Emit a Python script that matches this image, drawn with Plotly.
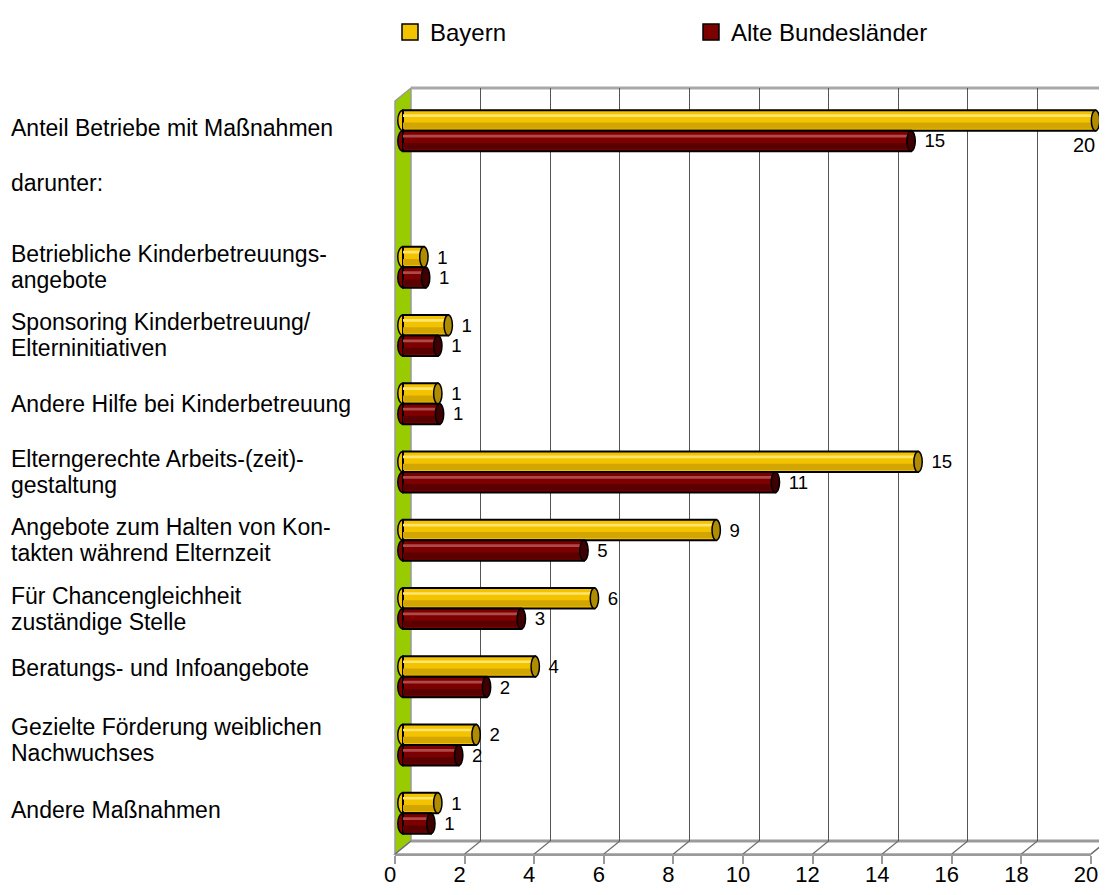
import plotly.graph_objects as go

# ---------------- data ----------------
categories = [
    "Anteil Betriebe mit Maßnahmen",
    "darunter:",
    "Betriebliche Kinderbetreuungs-<br>angebote",
    "Sponsoring Kinderbetreuung/<br>Elterninitiativen",
    "Andere Hilfe bei Kinderbetreuung",
    "Elterngerechte Arbeits-(zeit)-<br>gestaltung",
    "Angebote zum Halten von Kon-<br>takten während Elternzeit",
    "Für Chancengleichheit<br>zuständige Stelle",
    "Beratungs- und Infoangebote",
    "Gezielte Förderung weiblichen<br>Nachwuchses",
    "Andere Maßnahmen",
]
bayern = [19.9, None, 0.6, 1.3, 1.0, 14.8, 9.0, 5.5, 3.8, 2.1, 1.0]
alte = [14.6, None, 0.65, 1.0, 1.05, 10.7, 5.2, 3.4, 2.4, 1.6, 0.8]
bayern_labels = ["20", "", "1", "1", "1", "15", "9", "6", "4", "2", "1"]
alte_labels = ["15", "", "1", "1", "1", "11", "5", "3", "2", "2", "1"]
series_names = ["Bayern", "Alte Bundesländer"]
x_tick_values = [0, 2, 4, 6, 8, 10, 12, 14, 16, 18, 20]
x_tick_labels = ["0", "2", "4", "6", "8", "10", "12", "14", "16", "18", "20"]

# ---------------- geometry / style ----------------
PAGE_W, PAGE_H = 1107, 895
BODY = 8                                  # default page margin around the figure
W, H = PAGE_W - 2 * BODY, PAGE_H - 2 * BODY
RIGHT_EDGE = PAGE_W - BODY                # last visible page x of the figure
FONT = "Liberation Sans, Arial, Helvetica, sans-serif"
GRAY = "#9a9a9a"

XMAX = 20
FRONT = (395.0, 1091.0)     # page x of 0 and 20 on the front (floor edge)
BACK = (411.0, 1107.0)      # page x of 0 and 20 on the back wall
FRONT_FLOOR_Y, BACK_FLOOR_Y = 854.0, 841.0
BACK_TOP_Y, FRONT_TOP_Y = 88.0, 101.0
MID0 = 403.0
UNIT = (FRONT[1] - FRONT[0]) / XMAX
BAR_LEFT = -0.3
CAT_TOP, CAT_BOTTOM = 96.6, 847.4
LABEL_LINE = 26


def px(x):
    """page pixel x -> paper fraction"""
    return (x - BODY) / W


def py(y):
    """page pixel y -> paper fraction"""
    return 1 - (y - BODY) / H


def front_px(v):
    return FRONT[0] + (FRONT[1] - FRONT[0]) * v / XMAX


def back_px(v):
    return BACK[0] + (BACK[1] - BACK[0]) * v / XMAX


ypos = list(range(len(categories)))
BAR_W = 0.30
styles = [
    dict(offset=-BAR_W, base="#F4C300", light="#FFE46E", dark="#D2A500", cap="#B08C00"),
    dict(offset=0.0, base="#7C0000", light="#AE4A4A", dark="#5A0000", cap="#3E0000"),
]
series_values = [bayern, alte]
series_labels = [bayern_labels, alte_labels]

fig = go.Figure()

fig.add_trace(go.Scatter(x=[None], y=[None], xaxis="x", yaxis="y",
                         showlegend=False, hoverinfo="skip"))
fig.add_trace(go.Scatter(x=[None], y=[None], xaxis="x3", yaxis="y3",
                         showlegend=False, hoverinfo="skip"))

shapes = []
annotations = []

for name, vals, labs, st in zip(series_names, series_values, series_labels, styles):
    texts = [l if (v is not None and v < 19) else "" for v, l in zip(vals, labs)]
    fig.add_trace(go.Bar(
        orientation="h", x=vals, y=ypos, xaxis="x2", yaxis="y2",
        width=BAR_W, offset=st["offset"],
        marker=dict(color=st["base"], line=dict(color="black", width=2)),
        text=texts, texttemplate="\u00a0\u00a0%{text}", textposition="outside",
        textfont=dict(size=20, color="black", family=FONT),
        cliponaxis=False, showlegend=False, hoverinfo="skip", name=name,
    ))
    fig.add_trace(go.Bar(
        orientation="h", x=vals, y=ypos, xaxis="x2", yaxis="y2",
        width=0.04, offset=st["offset"] + 0.06,
        marker=dict(color=st["light"], line=dict(width=0)),
        showlegend=False, hoverinfo="skip",
    ))
    fig.add_trace(go.Bar(
        orientation="h", x=vals, y=ypos, xaxis="x2", yaxis="y2",
        width=0.09, offset=st["offset"] + 0.18,
        marker=dict(color=st["dark"], line=dict(width=0)),
        showlegend=False, hoverinfo="skip",
    ))
    fig.add_trace(go.Scatter(
        x=[None], y=[None], xaxis="x2", yaxis="y2", mode="markers", name=name,
        marker=dict(symbol="square", size=20, color=st["base"],
                    line=dict(color="black", width=1.5)),
        hoverinfo="skip",
    ))
    for i, (v, l) in enumerate(zip(vals, labs)):
        if v is None:
            continue
        y0 = i + st["offset"]
        y1 = y0 + BAR_W
        shapes.append(dict(type="circle", xref="x2", yref="y2", layer="above",
                           x0=v - 0.12, x1=v + 0.12, y0=y0, y1=y1,
                           fillcolor=st["cap"], line=dict(color="black", width=1.5)))
        shapes.append(dict(type="circle", xref="x2", yref="y2", layer="below",
                           x0=-0.15, x1=0.15, y0=y0, y1=y1,
                           fillcolor=st["base"], line=dict(color="black", width=1.5)))
        if v >= 19:
            annotations.append(dict(x=v, y=y1, xref="x2", yref="y2", text=l,
                                    showarrow=False, xanchor="center", yanchor="top",
                                    xshift=-12, yshift=-1,
                                    font=dict(size=20, color="black", family=FONT)))

# category labels (left aligned, one annotation per line)
label_shift = {0: 3, 1: 16, 8: 9, 9: 5, 10: 3}
for i, c in enumerate(categories):
    lines = c.split("<br>")
    n = len(lines)
    for k, line in enumerate(lines):
        annotations.append(dict(
            x=px(10), y=i, xref="paper", yref="y2", text=line,
            showarrow=False, xanchor="left", yanchor="middle", align="left",
            width=375, borderpad=0,
            yshift=label_shift.get(i, 0) + ((n - 1) / 2 - k) * LABEL_LINE,
            font=dict(size=23, color="black", family=FONT)))

# ---- 3D frame decorations ----
shapes.insert(0, dict(
    type="path", xref="paper", yref="paper", layer="below",
    path=(f"M {px(front_px(0))},{py(FRONT_TOP_Y)} L {px(back_px(0))},{py(BACK_TOP_Y)} "
          f"L {px(back_px(0))},{py(BACK_FLOOR_Y)} L {px(front_px(0))},{py(FRONT_FLOOR_Y)} Z"),
    fillcolor="#99CC00", line=dict(color=GRAY, width=1.5)))
shapes.insert(1, dict(
    type="path", xref="paper", yref="paper", layer="below",
    path=(f"M {px(front_px(0))},{py(FRONT_FLOOR_Y)} L {px(front_px(XMAX))},{py(FRONT_FLOOR_Y)} "
          f"L {px(back_px(XMAX))},{py(BACK_FLOOR_Y)} L {px(back_px(0))},{py(BACK_FLOOR_Y)} Z"),
    fillcolor="white", line=dict(color=GRAY, width=1.5)))
shapes.append(dict(type="line", xref="paper", yref="paper", layer="below",
                   x0=px(back_px(0)), x1=px(back_px(XMAX)),
                   y0=py(BACK_FLOOR_Y), y1=py(BACK_FLOOR_Y),
                   line=dict(color=GRAY, width=3)))
for v in x_tick_values:
    shapes.append(dict(type="line", xref="paper", yref="paper", layer="below",
                       x0=px(front_px(v)), y0=py(FRONT_FLOOR_Y),
                       x1=px(back_px(v)), y1=py(BACK_FLOOR_Y),
                       line=dict(color="#6e6e6e", width=1.2)))
shapes.append(dict(type="line", xref="paper", yref="paper", layer="below",
                   x0=px(back_px(0)), x1=px(back_px(XMAX)),
                   y0=py(BACK_TOP_Y), y1=py(BACK_TOP_Y),
                   line=dict(color="#a8a8a8", width=3)))

# axes that would run past the right edge keep their scale and are cut there
back_range_end = XMAX * (RIGHT_EDGE - BACK[0]) / (BACK[1] - BACK[0])
bar_range_end = (RIGHT_EDGE - MID0) / UNIT
bar_left_px = MID0 + BAR_LEFT * UNIT

fig.update_layout(
    width=W, height=H,
    margin=dict(l=0, r=0, t=0, b=0, autoexpand=False),
    paper_bgcolor="white", plot_bgcolor="rgba(0,0,0,0)",
    barmode="overlay",
    font=dict(family=FONT, color="black"),
    showlegend=True,
    legend=dict(orientation="h", x=px(390), y=py(10), xanchor="left", yanchor="top",
                entrywidth=256, entrywidthmode="pixels", itemsizing="trace",
                font=dict(size=24, family=FONT, color="black"),
                bgcolor="rgba(0,0,0,0)", traceorder="normal"),
    xaxis=dict(domain=[px(BACK[0]), 1.0], range=[0, back_range_end], anchor="y",
               tickvals=x_tick_values, showticklabels=False, ticks="",
               showgrid=True, gridcolor="#555555", gridwidth=1,
               zeroline=False, showline=False),
    yaxis=dict(domain=[py(BACK_FLOOR_Y), py(BACK_TOP_Y)], range=[0, 1], anchor="x",
               showgrid=False, showticklabels=False, zeroline=False, showline=False,
               ticks=""),
    xaxis2=dict(domain=[px(bar_left_px), 1.0], range=[BAR_LEFT, bar_range_end],
                anchor="y2", showgrid=False, showticklabels=False, zeroline=False,
                showline=False, ticks=""),
    yaxis2=dict(domain=[py(CAT_BOTTOM), py(CAT_TOP)], range=[len(categories) - 0.5, -0.5],
                anchor="x2", showgrid=False, showticklabels=False, zeroline=False,
                showline=False, ticks=""),
    xaxis3=dict(domain=[px(FRONT[0]), px(FRONT[1])], range=[0, XMAX], anchor="y3",
                tickvals=x_tick_values, ticktext=x_tick_labels,
                ticks="outside", ticklen=8, tickwidth=2, tickcolor=GRAY,
                showline=True, linecolor=GRAY, linewidth=2, showgrid=False, zeroline=False,
                tickfont=dict(size=22, family=FONT, color="black"), ticklabelstandoff=-8,
                ticklabelshift=-5, ticklabeloverflow="allow"),
    yaxis3=dict(domain=[py(FRONT_FLOOR_Y), py(FRONT_FLOOR_Y - 20)], range=[0, 1], anchor="x3",
                showgrid=False, showticklabels=False, zeroline=False, showline=False,
                ticks=""),
    shapes=shapes,
    annotations=annotations,
)

fig.write_html("out.html", config={"displayModeBar": False})
